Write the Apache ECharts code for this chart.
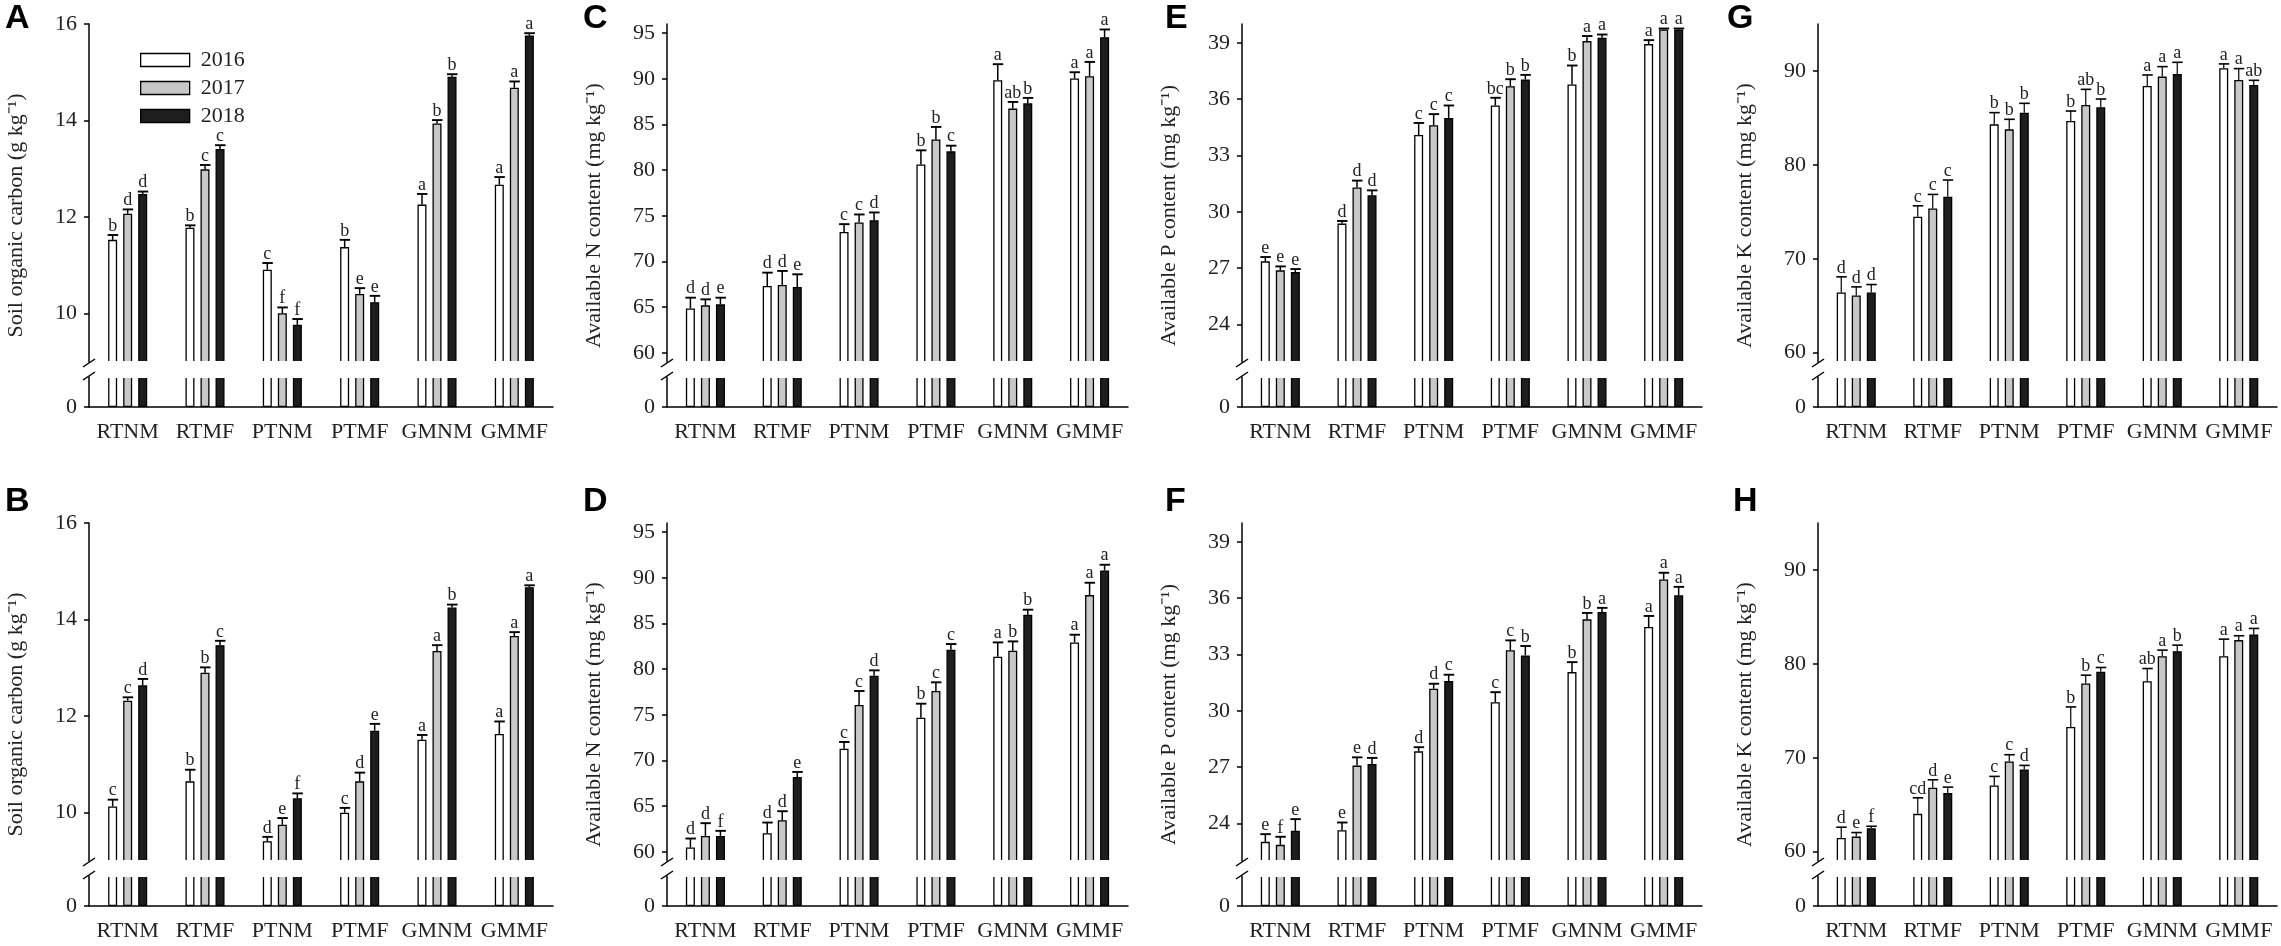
<!DOCTYPE html>
<html>
<head>
<meta charset="utf-8">
<title>Soil nutrients</title>
<script src="https://cdn.jsdelivr.net/npm/echarts@6.0.0/dist/echarts.min.js"></script>
<style>
	html, body { margin: 0; padding: 0; background: #fff; }
	#chart { width: 2281px; height: 946px; }
</style>
</head>
<body>
<div id="chart"></div>
<script>
'use strict';

// categories / years
var categories = ['RTNM', 'RTMF', 'PTNM', 'PTMF', 'GMNM', 'GMMF'];
var years = ['2016', '2017', '2018'];

// tick labels of the upper (broken) y axes
var ticksSOC = [10, 12, 14, 16];
var ticksN = [60, 65, 70, 75, 80, 85, 90, 95];
var ticksP = [24, 27, 30, 33, 36, 39];
var ticksK = [60, 70, 80, 90];

// A : soil organic carbon, rows = 2016 / 2017 / 2018
var meanA = [
	[11.53, 11.78, 10.91, 11.38, 12.26, 12.67],
	[12.07, 12.99, 10.01, 10.41, 13.94, 14.68],
	[12.48, 13.41, 9.77, 10.24, 14.91, 15.76]
];
var errA = [
	[0.10, 0.05, 0.14, 0.15, 0.22, 0.16],
	[0.09, 0.09, 0.12, 0.12, 0.07, 0.13],
	[0.05, 0.08, 0.12, 0.13, 0.05, 0.05]
];
var letA = [
	['b', 'b', 'c', 'b', 'a', 'a'],
	['d', 'c', 'f', 'e', 'b', 'a'],
	['d', 'c', 'f', 'e', 'b', 'a']
];

// B : soil organic carbon
var meanB = [
	[10.13, 10.65, 9.41, 10.00, 11.51, 11.63],
	[12.32, 12.90, 9.75, 10.65, 13.35, 13.66],
	[12.64, 13.47, 10.30, 11.70, 14.25, 14.67]
];
var errB = [
	[0.14, 0.24, 0.09, 0.10, 0.10, 0.26],
	[0.07, 0.11, 0.14, 0.18, 0.12, 0.08],
	[0.13, 0.09, 0.10, 0.14, 0.06, 0.04]
];
var letB = [
	['c', 'b', 'd', 'c', 'a', 'a'],
	['c', 'b', 'e', 'd', 'a', 'a'],
	['d', 'c', 'f', 'e', 'b', 'a']
];

// C : available N
var meanC = [
	[64.87, 67.32, 73.24, 80.63, 89.84, 90.03],
	[65.20, 67.43, 74.27, 83.37, 86.74, 90.28],
	[65.31, 67.21, 74.52, 82.06, 87.32, 94.56]
];
var errC = [
	[1.17, 1.46, 0.85, 1.54, 1.76, 0.69],
	[0.66, 1.54, 0.88, 1.36, 0.73, 1.57],
	[0.73, 1.39, 0.85, 0.62, 0.59, 0.84]
];
var letC = [
	['d', 'd', 'c', 'b', 'a', 'a'],
	['d', 'd', 'c', 'b', 'ab', 'a'],
	['e', 'e', 'd', 'c', 'b', 'a']
];

// D : available N
var meanD = [
	[60.48, 62.04, 71.30, 74.69, 81.37, 82.93],
	[61.75, 63.47, 76.08, 77.61, 82.02, 88.11],
	[61.75, 68.20, 79.29, 82.13, 85.96, 90.81]
];
var errD = [
	[0.98, 1.17, 0.73, 1.53, 1.56, 0.84],
	[1.39, 0.98, 1.53, 0.95, 1.02, 1.35],
	[0.55, 0.55, 0.58, 0.62, 0.55, 0.62]
];
var letD = [
	['d', 'd', 'c', 'b', 'a', 'a'],
	['d', 'd', 'c', 'c', 'b', 'a'],
	['f', 'e', 'd', 'c', 'b', 'a']
];

// E : available P
var meanE = [
	[27.36, 29.37, 34.09, 35.66, 36.78, 38.93],
	[26.88, 31.29, 34.61, 36.69, 39.09, 39.71],
	[26.79, 30.88, 35.00, 37.05, 39.27, 39.71]
];
var errE = [
	[0.23, 0.14, 0.64, 0.41, 1.01, 0.21],
	[0.21, 0.37, 0.59, 0.37, 0.27, 0.05],
	[0.16, 0.26, 0.66, 0.24, 0.17, 0.05]
];
var letE = [
	['e', 'd', 'c', 'bc', 'b', 'a'],
	['e', 'd', 'c', 'b', 'a', 'a'],
	['e', 'd', 'c', 'b', 'a', 'a']
];

// F : available P
var meanF = [
	[23.02, 23.64, 27.84, 30.46, 32.06, 34.46],
	[22.86, 27.08, 31.17, 33.22, 34.87, 36.99],
	[23.61, 27.17, 31.58, 32.95, 35.26, 36.15]
];
var errF = [
	[0.41, 0.41, 0.22, 0.53, 0.53, 0.59],
	[0.43, 0.44, 0.27, 0.53, 0.34, 0.36],
	[0.62, 0.32, 0.34, 0.50, 0.22, 0.45]
];
var letF = [
	['e', 'e', 'd', 'c', 'b', 'a'],
	['f', 'e', 'd', 'c', 'b', 'a'],
	['e', 'd', 'c', 'b', 'a', 'a']
];

// G : available K
var meanG = [
	[66.40, 74.47, 84.31, 84.67, 88.40, 90.28],
	[66.08, 75.35, 83.78, 86.37, 89.40, 89.04],
	[66.40, 76.60, 85.56, 86.13, 89.68, 88.51]
];
var errG = [
	[1.67, 1.17, 1.25, 1.06, 1.17, 0.47],
	[0.92, 1.50, 1.07, 1.67, 1.06, 1.21],
	[0.85, 1.78, 0.99, 0.88, 1.24, 0.49]
];
var letG = [
	['d', 'c', 'b', 'b', 'a', 'a'],
	['d', 'c', 'b', 'ab', 'a', 'a'],
	['d', 'c', 'b', 'b', 'a', 'ab']
];

// H : available K
var meanH = [
	[61.46, 64.02, 67.05, 73.27, 78.15, 80.82],
	[61.60, 66.80, 69.61, 77.90, 80.82, 82.53],
	[62.49, 66.23, 68.75, 79.15, 81.35, 83.13]
];
var errH = [
	[1.14, 1.71, 0.96, 2.14, 1.35, 1.81],
	[0.43, 0.85, 0.71, 0.89, 0.64, 0.46],
	[0.21, 0.64, 0.43, 0.46, 0.64, 0.64]
];
var letH = [
	['d', 'cd', 'c', 'b', 'ab', 'a'],
	['e', 'd', 'c', 'b', 'a', 'a'],
	['f', 'e', 'd', 'c', 'b', 'a']
];

var titleSOC = 'Soil organic carbon (g kg\u207B\u00B9)';
var titleN = 'Available N content (mg kg\u207B\u00B9)';
var titleP = 'Available P content (mg kg\u207B\u00B9)';
var titleK = 'Available K content (mg kg\u207B\u00B9)';

/*------------------ layout ---------------------*/
var SERIF = "'Liberation Serif', 'Times New Roman', serif";
var SANS = "'Liberation Sans', Arial, sans-serif";
var TXT = '#222';
var colLeft = [89, 667, 1242, 1818];
var colWidth = [464, 461, 460, 459];
var upTop = [24, 523];
var upBottom = [362, 861];
var lowTop = [377, 876];
var lowBottom = [407, 906];
var letterPos = [[5, 2], [5, 485], [583, 2], [583, 485], [1165, 2], [1165, 485], [1727, 2], [1733, 485]];
var barColors = ['#ffffff', '#c8c8c8', '#1e1e1e'];
var BAR_W = 9, BAR_PITCH = 15;

var panels = [
	{ key: 'A', col: 0, row: 0, mean: meanA, err: errA, letters: letA, min: 9, max: 16, ticks: ticksSOC, title: titleSOC },
	{ key: 'B', col: 0, row: 1, mean: meanB, err: errB, letters: letB, min: 9, max: 16, ticks: ticksSOC, title: titleSOC },
	{ key: 'C', col: 1, row: 0, mean: meanC, err: errC, letters: letC, min: 59, max: 96, ticks: ticksN, title: titleN },
	{ key: 'D', col: 1, row: 1, mean: meanD, err: errD, letters: letD, min: 59, max: 96, ticks: ticksN, title: titleN },
	{ key: 'E', col: 2, row: 0, mean: meanE, err: errE, letters: letE, min: 22, max: 40, ticks: ticksP, title: titleP },
	{ key: 'F', col: 2, row: 1, mean: meanF, err: errF, letters: letF, min: 22, max: 40, ticks: ticksP, title: titleP },
	{ key: 'G', col: 3, row: 0, mean: meanG, err: errG, letters: letG, min: 59, max: 95, ticks: ticksK, title: titleK },
	{ key: 'H', col: 3, row: 1, mean: meanH, err: errH, letters: letH, min: 59, max: 95, ticks: ticksK, title: titleK }
];

// 误差线 + 显著性字母
function errRender(k, letters, lw) {
	return function (params, api) {
		var i = api.value(0);
		var top = api.coord([i, api.value(1)]);
		var end = api.coord([i, api.value(1) + api.value(2)]);
		var x = top[0] + (k - 1) * BAR_PITCH;
		return {
			type: 'group',
			children: [
				{ type: 'line', shape: { x1: x, y1: top[1], x2: x, y2: end[1] }, style: { stroke: '#000', lineWidth: lw } },
				{ type: 'line', shape: { x1: x - 5, y1: end[1], x2: x + 5.5, y2: end[1] }, style: { stroke: '#000', lineWidth: lw + 0.4 } },
				{
					type: 'text', x: x, y: end[1],
					style: { text: letters[params.dataIndex], font: '18px ' + SERIF, fill: TXT, align: 'center', verticalAlign: 'bottom' }
				}
			]
		};
	};
}

var grid = [], xAxis = [], yAxis = [], series = [], graphic = [];
var axisLineStyle = { color: '#000', width: 1.5 };

panels.forEach(function (p, pi) {
	var left = colLeft[p.col], width = colWidth[p.col];
	var gu = pi * 2, gl = pi * 2 + 1;
	grid.push({ left: left, top: upTop[p.row], width: width, height: upBottom[p.row] - upTop[p.row] });
	grid.push({ left: left, top: lowTop[p.row], width: width, height: lowBottom[p.row] - lowTop[p.row] });

	xAxis.push({ type: 'category', gridIndex: gu, data: categories, show: false });
	xAxis.push({
		type: 'category', gridIndex: gl, data: categories,
		axisLine: { lineStyle: axisLineStyle },
		axisTick: { alignWithLabel: true, interval: 0, length: 5, lineStyle: axisLineStyle },
		axisLabel: { interval: 0, fontSize: 22, fontFamily: SERIF, color: TXT, margin: 14 }
	});

	// 标题居中于整根断轴: 用右侧 padding 把文字往下推
	var shift = ((upTop[p.row] + lowBottom[p.row]) / 2 - (upTop[p.row] + upBottom[p.row]) / 2) * 2;
	yAxis.push({
		type: 'value', gridIndex: gu, min: p.min, max: p.max,
		name: p.title,
		nameLocation: 'middle', nameRotate: 90, nameGap: 62,
		nameTextStyle: { fontSize: 22, fontFamily: SERIF, color: TXT, padding: [0, shift, 0, 0] },
		splitLine: { show: false },
		axisLine: { show: true, lineStyle: axisLineStyle },
		axisTick: { show: true, length: 5, customValues: p.ticks, lineStyle: axisLineStyle },
		axisLabel: { customValues: p.ticks, fontSize: 22, fontFamily: SERIF, color: TXT, margin: 12 }
	});
	yAxis.push({
		type: 'value', gridIndex: gl, min: 0, max: 1,
		splitLine: { show: false },
		axisLine: { show: true, lineStyle: axisLineStyle },
		axisTick: { show: true, length: 5, customValues: [0], lineStyle: axisLineStyle },
		axisLabel: { customValues: [0], fontSize: 22, fontFamily: SERIF, color: TXT, margin: 12 }
	});

	years.forEach(function (y, k) {
		var style = { color: barColors[k], borderColor: '#000', borderWidth: 1.3 };
		series.push({
			name: y, type: 'bar', xAxisIndex: gu, yAxisIndex: gu,
			barWidth: BAR_W, barGap: '67%', itemStyle: style, data: p.mean[k]
		});
		series.push({
			name: y, type: 'bar', xAxisIndex: gl, yAxisIndex: gl,
			barWidth: BAR_W, barGap: '67%', itemStyle: style, data: p.mean[k]
		});
		series.push({
			name: 'err' + y, type: 'custom', xAxisIndex: gu, yAxisIndex: gu, z: 5,
			renderItem: errRender(k, p.letters[k], p.col === 3 ? 1.2 : 1.5),
			encode: { x: 0, y: 1 },
			data: p.mean[k].map(function (v, i) { return [i, v, p.err[k][i]]; })
		});
	});

	// 断轴: 遮住裁剪边 + 斜线
	var ub = upBottom[p.row], lt = lowTop[p.row];
	graphic.push({ type: 'rect', z: 100, shape: { x: left + 1, y: ub - 1, width: width + 2, height: lt - ub + 2 }, style: { fill: '#fff' } });
	graphic.push({ type: 'line', z: 101, shape: { x1: left - 6, y1: ub + 5, x2: left + 6, y2: ub - 3 }, style: { stroke: '#000', lineWidth: 1.5 } });
	graphic.push({ type: 'line', z: 101, shape: { x1: left - 6, y1: lt + 3, x2: left + 6, y2: lt - 5 }, style: { stroke: '#000', lineWidth: 1.5 } });

	// 面板字母
	graphic.push({
		type: 'text', z: 101, x: letterPos[pi][0], y: letterPos[pi][1],
		style: { text: p.key, font: 'bold 34px ' + SANS, fill: '#000', align: 'left', verticalAlign: 'top' }
	});
});

var chart = echarts.init(document.getElementById('chart'));
chart.setOption({
	animation: false,
	backgroundColor: '#fff',
	legend: {
		data: years, orient: 'vertical', left: 135, top: 44,
		icon: 'rect', itemWidth: 49, itemHeight: 13, itemGap: 6,
		itemStyle: { borderColor: '#000', borderWidth: 1.3 },
		textStyle: { fontSize: 22, fontFamily: SERIF, color: TXT, padding: [0, 0, 0, 6] }
	},
	grid: grid,
	xAxis: xAxis,
	yAxis: yAxis,
	series: series,
	graphic: graphic
});
</script>
</body>
</html>
